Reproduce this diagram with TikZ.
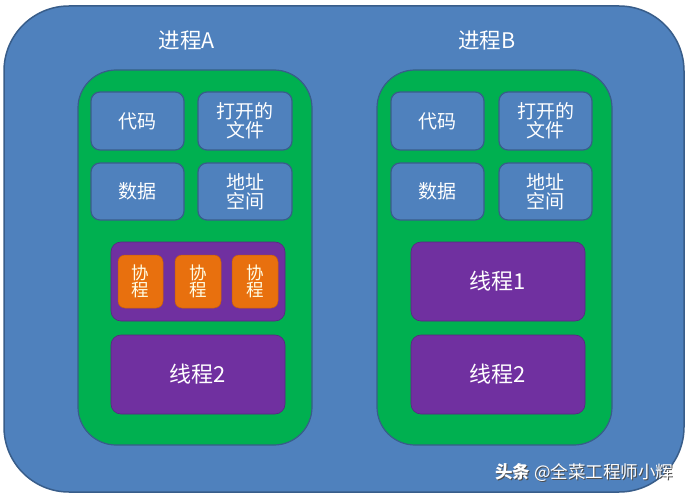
\documentclass[tikz,border=0pt]{standalone}
\usepackage{fontspec}
\setmainfont{Noto Sans CJK SC}
\definecolor{pblue}{HTML}{4F81BD}
\definecolor{pblueb}{HTML}{385D8A}
\definecolor{pgreen}{HTML}{00B050}
\definecolor{ppurple}{HTML}{7030A0}
\definecolor{porange}{HTML}{E8700E}
\begin{document}
\begin{tikzpicture}[x=1pt,y=-1pt,
  outer/.style={fill=pblue,draw=pblueb,line width=1.5pt,rounded corners=65pt},
  panel/.style={fill=pgreen,draw=pblueb,line width=1.2pt,rounded corners=38pt},
  res/.style={fill=pblue,draw=pblueb,line width=1.2pt,rounded corners=9pt},
  thr/.style={fill=ppurple,draw=ppurple!80!black,line width=0.6pt,rounded corners=10pt},
  co/.style={fill=porange,draw=porange!85!black,line width=0.5pt,rounded corners=7pt},
  lab/.style={text=white,font=\fontsize{19}{21}\selectfont,align=center},
  colab/.style={text=white!90!yellow,font=\fontsize{17.5}{20}\selectfont,align=center},
  thlab/.style={text=white,font=\fontsize{22}{24}\selectfont},
  ttl/.style={text=white,font=\fontsize{21.5}{24}\selectfont},
  wm/.style={text=white,font=\fontsize{17.5}{19}\selectfont}]
\useasboundingbox (0,0) rectangle (691,500);
\fill[white] (0,0) rectangle (691,500);
\draw[outer] (4,6) rectangle (684,492);
\node[ttl] (ta) at (187,40) {进程A};
\node[ttl] (tb) at (487,40) {进程B};
% panel A
\draw[panel] (78,70) rectangle (312,445);
\draw[res] (91,92) rectangle (184,150);
\node[lab] (ca) at (137.5,121) {代码};
\draw[res] (198,92) rectangle (292,150);
\node[lab] (fa) at (245,121) {打开的\\[-2pt]文件};
\draw[res] (91,163) rectangle (184,220);
\node[lab] (da) at (137.5,191.5) {数据};
\draw[res] (198,163) rectangle (292,220);
\node[lab] (aa) at (245,191.5) {地址\\[-2pt]空间};
\draw[thr] (111,242) rectangle (285,321);
\draw[co] (118,255) rectangle (163,308);
\node[colab] (c1) at (140.5,281.5) {协\\[-3pt]程};
\draw[co] (175,255) rectangle (221,308);
\node[colab] (c2) at (198,281.5) {协\\[-3pt]程};
\draw[co] (232,255) rectangle (278,308);
\node[colab] (c3) at (255,281.5) {协\\[-3pt]程};
\draw[thr] (111,335) rectangle (285,414);
\node[thlab] (t2a) at (198,374.5) {线程2};
% panel B
\draw[panel] (377,70) rectangle (612,445);
\draw[res] (391,92) rectangle (484,150);
\node[lab] (cb) at (437.5,121) {代码};
\draw[res] (499,92) rectangle (592,150);
\node[lab] (fb) at (545.5,121) {打开的\\[-2pt]文件};
\draw[res] (391,163) rectangle (484,220);
\node[lab] (db) at (437.5,191.5) {数据};
\draw[res] (499,163) rectangle (592,220);
\node[lab] (ab) at (545.5,191.5) {地址\\[-2pt]空间};
\draw[thr] (411,242) rectangle (585,321);
\node[thlab] (t1b) at (498,281.5) {线程1};
\draw[thr] (411,335) rectangle (585,414);
\node[thlab] (t2b) at (498,374.5) {线程2};
% watermark
\node[wm,text=black!70,anchor=east] (wms) at (677.8,473.8) {\textbf{头条} @全菜工程师小辉};
\node[wm,anchor=east] (wm) at (677,473) {\textbf{头条} @全菜工程师小辉};
\end{tikzpicture}
\end{document}
